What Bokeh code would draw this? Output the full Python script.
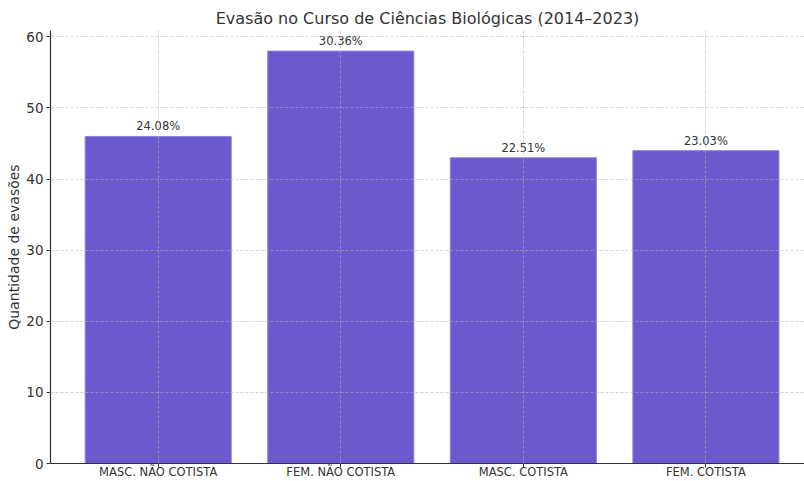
from bokeh.plotting import figure
from bokeh.models import Range1d, FixedTicker, ColumnDataSource
from bokeh.embed import file_html
from bokeh.resources import INLINE
from bokeh.core.properties import value

categories = ["MASC. NÃO COTISTA", "FEM. NÃO COTISTA", "MASC. COTISTA", "FEM. COTISTA"]
counts = [46, 58, 43, 44]
pct_labels = ["24.08%", "30.36%", "22.51%", "23.03%"]
y_ticks = [0, 10, 20, 30, 40, 50, 60]

xs = list(range(len(categories)))
src = ColumnDataSource(dict(x=xs, top=counts, lab=pct_labels))

FONT = "DejaVu Sans"
TXT = "#333333"

p = figure(width=804, height=481, output_backend="svg", toolbar_location=None,
           x_range=Range1d(-0.59, 3.54), y_range=Range1d(0, 60.9),
           min_border_left=50, min_border_right=0, min_border_top=30, min_border_bottom=15)

p.title.text = "Evasão no Curso de Ciências Biológicas (2014–2023)"
p.title.text_font = FONT
p.title.text_font_size = "16px"
p.title.text_font_style = "normal"
p.title.text_color = TXT
p.title.align = "center"
p.title.standoff = 5
p.title.offset = 4

p.vbar(x="x", top="top", width=0.8, bottom=0, source=src,
       fill_color="#6A5ACD", line_color="#8c80e0", line_width=1)

p.text(x="x", y="top", text="lab", source=src, text_align="center",
       text_baseline="bottom", y_offset=-3, text_font=value(FONT),
       text_font_size="11.5px", text_color=TXT)

p.outline_line_color = None
p.background_fill_color = "white"
p.border_fill_color = "white"

for g in (p.xgrid, p.ygrid):
    g.grid_line_color = "#b0b0b0"
    g.grid_line_alpha = 0.7
    g.grid_line_dash = "3 2"
    g.grid_line_width = 0.8
    g.level = "overlay"

p.xaxis.ticker = FixedTicker(ticks=xs)
p.xaxis.major_label_overrides = {i: c for i, c in enumerate(categories)}
p.yaxis.ticker = FixedTicker(ticks=y_ticks)
p.xgrid.ticker = FixedTicker(ticks=xs)
p.ygrid.ticker = FixedTicker(ticks=y_ticks)

for ax in (p.xaxis, p.yaxis):
    ax.axis_line_color = "#333333"
    ax.axis_line_width = 1.2
    ax.major_tick_line_color = "#333333"
    ax.major_tick_out = 4
    ax.major_tick_in = 0
    ax.minor_tick_line_color = None
    ax.major_label_text_font = FONT
    ax.major_label_text_color = TXT

p.xaxis.major_label_text_font_size = "11.5px"
p.xaxis.major_label_standoff = -3
p.yaxis.major_label_text_font_size = "13.5px"
p.yaxis.major_label_standoff = 3

p.yaxis.axis_label = "Quantidade de evasões"
p.yaxis.axis_label_text_font = FONT
p.yaxis.axis_label_text_font_size = "14px"
p.yaxis.axis_label_text_font_style = "normal"
p.yaxis.axis_label_text_color = TXT
p.yaxis.axis_label_standoff = 1

open("out.html", "w").write(file_html(p, INLINE))
